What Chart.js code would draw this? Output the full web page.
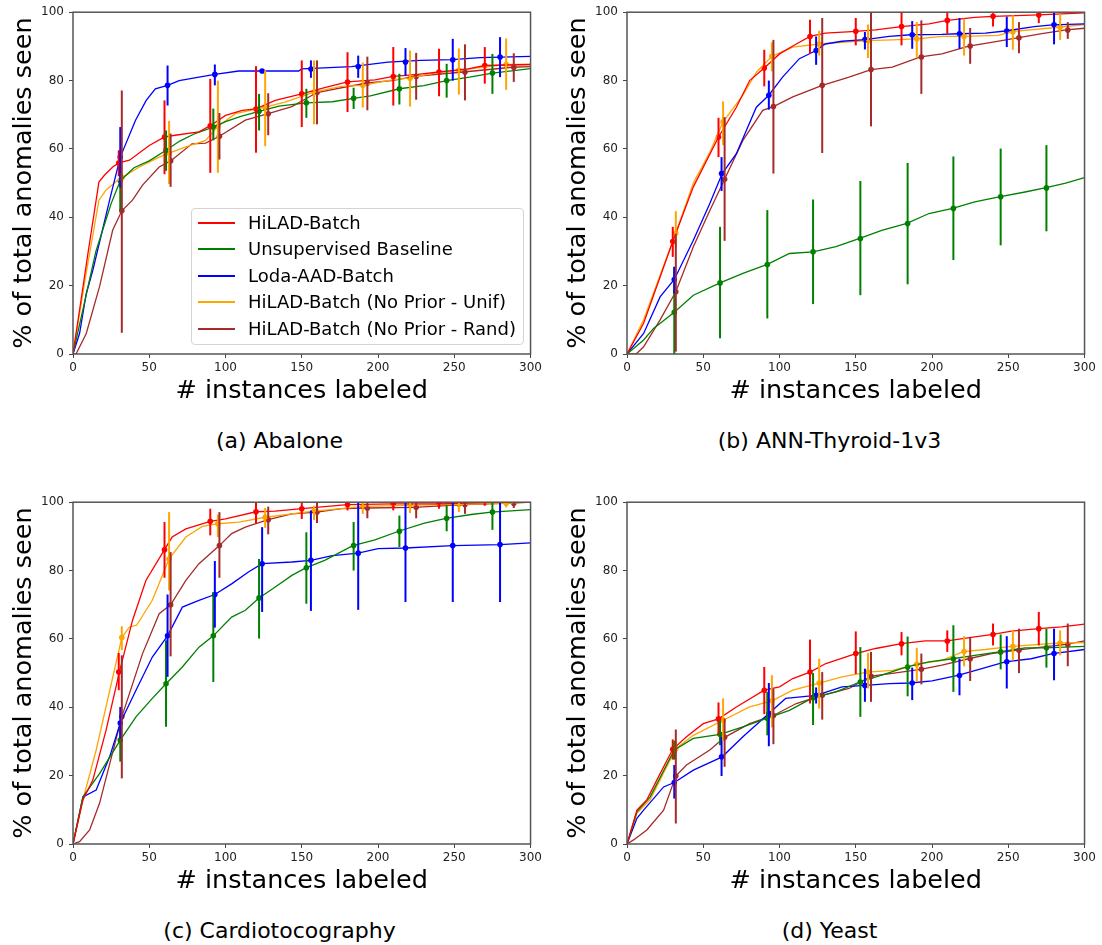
<!DOCTYPE html>
<html>
<head>
<meta charset="utf-8">
<script src="https://cdn.jsdelivr.net/npm/chart.js@4"></script>
<style>
  body { margin: 0; background: #fff; font-family: "DejaVu Sans", sans-serif; }
  #page { position: relative; width: 1102px; height: 945px; }
  canvas { position: absolute; }
  .caption { position: absolute; width: 551px; text-align: center; font-size: 22px; line-height: 26px; color: #000; }
  #legend { position: absolute; left: 191px; top: 208px; width: 333px; height: 137px; box-sizing: border-box;
            border: 1px solid #d4d4d4; border-radius: 4px; background: rgba(255,255,255,0.85); }
  .lg-row { position: absolute; left: 0; height: 24px; width: 330px; }
  .lg-line { position: absolute; left: 6px; top: 11px; width: 37px; height: 2px; }
  .lg-text { position: absolute; left: 56px; top: 0; font-size: 18px; line-height: 24px; white-space: nowrap; color: #000; }
</style>
</head>
<body>
<div id="page">
  <canvas id="chartA" width="545" height="410" style="left:0;top:0"></canvas>
  <canvas id="chartB" width="545" height="410" style="left:554px;top:0"></canvas>
  <canvas id="chartC" width="545" height="410" style="left:0;top:490px"></canvas>
  <canvas id="chartD" width="545" height="410" style="left:554px;top:490px"></canvas>
  <div class="caption" style="left:4px;top:428px">(a) Abalone</div>
  <div class="caption" style="left:554px;top:428px">(b) ANN-Thyroid-1v3</div>
  <div class="caption" style="left:4px;top:918px">(c) Cardiotocography</div>
  <div class="caption" style="left:554px;top:918px">(d) Yeast</div>
  <div id="legend"></div>
</div>
<script>
const seriesNames = ['HiLAD-Batch', 'Unsupervised Baseline', 'Loda-AAD-Batch',
  'HiLAD-Batch (No Prior - Unif)', 'HiLAD-Batch (No Prior - Rand)'];
const seriesColors = ['#ff0000', '#008000', '#0000ff', '#ffa500', '#a52a2a'];

const xTicks = [0, 50, 100, 150, 200, 250, 300];
const yTicks = [0, 20, 40, 60, 80, 100];

// x positions of the error bars (each method is shifted a little)
const hiladCheckX = [30, 60, 90, 120, 150, 180, 210, 240, 270];
const baselineCheckX = [31, 61, 92, 122, 153, 184, 214, 245, 275];
const lodaCheckX = [31, 62, 93, 124, 156, 187, 218, 249, 280];
const unifCheckX = [32, 63, 95, 126, 158, 190, 221, 253, 284];
const randCheckX = [32, 64, 96, 128, 160, 193, 225, 257, 289];

// (a) Abalone - curves [x, y]
const abaloneHilad = [[0,0],[5,15],[10,30],[17,50.3],[20.6,52.3],[26,54.7],[30,55.9],[37,56.7],[50,61],[60,63.5],[67,64],[82.6,65],[90,66.8],[100,69.8],[111,71.3],[120,71.7],[132.6,74.2],[150,76.1],[165,77.9],[180,79.6],[198,80.2],[210,81.2],[226,81.8],[240,82.5],[259,83.4],[270,84.4],[300,84.7]];
const abaloneBaseline = [[0,0],[5,10],[10,20],[15,30],[20,37],[25,44],[31,50.7],[40,54.5],[50,56.5],[61,59.6],[70,62.3],[80,64.5],[92,66.4],[100,68],[110,69.5],[122,71],[135,72.5],[153,73.5],[170,73.8],[184,74.8],[195,75.5],[214,77.6],[230,78.5],[245,80],[260,81],[275,82.2],[300,83.5]];
const abaloneLoda = [[0,0],[4.3,6],[8.7,17.7],[13,24.5],[24,45],[31,57.6],[41,68.4],[48,74.2],[54,77.6],[62,78.6],[69.6,80],[82.6,81],[93,81.8],[108.7,82.8],[148,82.8],[150,83.4],[182.6,84.1],[206.5,85.4],[228,85.9],[248.5,86.1],[267,86.7],[300,87.1]];
const abaloneUnif = [[0,0],[8,22],[17,45],[21.7,48],[29.3,50.8],[32,51.6],[43.5,54.7],[56.5,57.6],[63,58.8],[74,60.6],[87,62.5],[95,66.6],[106.5,70.3],[126,72.2],[139,73.7],[158,76.6],[176,78.3],[190,78.6],[209,80.2],[220.4,80.7],[237,82.2],[252.4,83],[283,84.7],[300,84.7]];
const abaloneRand = [[0,0],[2,0],[8.7,6],[17.4,19.7],[26,36.2],[32,41.9],[39,45],[45.6,49.4],[56.5,54.7],[64,56.5],[78,61.5],[87,61.7],[96,63.7],[113,68.4],[128,70.3],[143.5,72.4],[160,76.5],[176,77.9],[193,79.3],[209,80],[224,81.2],[256,82.5],[288,83.9],[300,84.1]];
// error bars [mean, low, high]
const abaloneHiladErr = [[55.9,52,59.6],[63.5,52.6,74.2],[66.8,53,80.5],[71.7,58.9,84.2],[76.1,66.4,85.9],[79.6,70.8,88.3],[81.2,72.7,89.8],[82.5,75.4,89.3],[84.4,79.1,89.8]];
const abaloneBaselineErr = [[50.7,42.1,54.7],[59.6,53.6,65.4],[66.4,62.5,71.8],[71,65.4,76.1],[73.5,69.1,77.6],[74.8,71.7,77.9],[77.6,73,82],[80,75,84.9],[82.2,76.1,87.8]];
const abaloneLodaErr = [[57.6,48.7,66.4],[78.6,72.7,84.4],[81.8,78.6,84.7],[82.8,82.5,83.1],[83.4,80.8,85.9],[84.1,80.8,87.3],[85.4,81.4,89.5],[86.1,80,92.2],[86.9,81,92.7]];
const abaloneUnifErr = [[51.6,50.5,53],[58.8,49.7,68.2],[66.6,53,80],[72.2,60.8,83],[76.6,67.2,85.9],[78.6,72.1,85.3],[80.7,72.4,88.8],[83,75.9,89.4],[84.7,77.3,92.3]];
const abaloneRandErr = [[41.9,6.2,77.1],[56.5,48.9,64.5],[63.7,56.9,70.5],[70.3,64,76.3],[76.5,67.2,85.9],[79.3,71.3,87],[81.2,74.4,88.1],[82.5,74.2,90.6],[83.9,79.6,88]];

// (b) ANN-Thyroid-1v3
const thyroidHilad = [[0,0],[10.9,9],[30,32.9],[43.5,48.9],[60,63.5],[71.7,72.2],[80.4,80],[90,83.7],[100,87.8],[111,90.7],[120,92.9],[130,93.9],[150,94.4],[163,94.8],[180,95.8],[198,96.6],[210,97.6],[228,98.5],[240,98.8],[270,99.2],[300,99.8]];
const thyroidBaseline = [[0,0],[10.9,4.1],[17.4,7.5],[31,12.2],[43.5,17.2],[61,20.8],[76,23.6],[92,26.2],[106.5,29.4],[122,29.9],[137,31.4],[152.6,33.8],[167,36.2],[183.5,38.2],[198,41.1],[213.5,42.6],[228,44.5],[244,46],[261,47.4],[274,48.6],[287,49.9],[300,51.6]];
const thyroidLoda = [[0,0],[10.9,6],[21.7,16.7],[31,21.8],[43.5,33.3],[54.3,44],[62.4,52.8],[71.7,58.6],[84.8,72.2],[93,75.7],[102,81],[113,86.4],[124,88.8],[130,90.7],[141,91.5],[156,92],[172,92.9],[186,93.4],[206.5,93.5],[217,93.7],[235,93.9],[248,94.5],[267,95.8],[279,96.3],[300,96.6]];
const thyroidUnif = [[0,0],[10.9,10],[32,35.4],[43.5,50],[54.3,59],[63,67.9],[76,75.7],[85,82.5],[95,87.1],[108.7,89.8],[126,90.7],[141,91.2],[157.6,91.7],[174,91.9],[190,92.2],[206.5,92.9],[220.4,92.9],[243.5,93.2],[252,94.3],[283,95.6],[300,96.4]];
const thyroidRand = [[0,0],[6,0],[10.9,2.1],[21.7,10],[32,18.2],[43.5,31.4],[54.3,42],[64,51.1],[76,62.5],[89,71.3],[96,72.4],[108.7,75.2],[128,78.6],[145.6,81],[160,83.2],[174,83.9],[192.4,86.9],[206.5,87.8],[224,90.1],[239,91.2],[256,92.5],[272,93.7],[288,94.8],[300,95.3]];
const thyroidHiladErr = [[32.9,28.4,37.2],[63.5,57.6,69.1],[83.7,78.3,89],[92.9,87.8,97.8],[94.4,90.3,98.3],[95.8,90.3,100],[97.6,93.7,100],[98.8,95.8,99.7],[99.2,96.8,100]];
const thyroidBaselineErr = [[12.2,0,25.5],[20.8,4.6,37.2],[26.2,10.4,42.1],[29.9,14.6,45.2],[33.8,17.2,50.6],[38.2,20.4,55.9],[42.6,27.5,57.8],[46,31.8,60.1],[48.6,35.9,61.1]];
const thyroidLodaErr = [[21.8,17.7,25.5],[52.8,47.7,57.6],[75.7,71.5,80],[88.8,84.6,92.9],[92,89.1,94.2],[93.4,89.3,97.4],[93.7,89.3,98.3],[94.5,89.8,98.7],[96.3,90.6,100]];
const thyroidUnifErr = [[35.4,31.4,41.8],[67.9,61.1,73.9],[87.1,82.7,91.2],[90.7,87.3,94.6],[91.7,86.6,96.4],[92.2,86.7,97.1],[92.9,87.3,98.1],[94.3,89,99.1],[95.6,91.9,99.5]];
const thyroidRandErr = [[18.2,0.7,35.2],[51.1,33.1,69.3],[72.4,52.8,91.9],[78.6,58.8,98.3],[83.2,66.6,100],[86.9,76.1,97.6],[90.1,84.9,95.4],[92.5,88,97.1],[94.8,92.2,97.1]];

// (c) Cardiotocography
const cardioHilad = [[0,0],[6.5,12.9],[13,18.7],[21.7,33.3],[30.4,50.3],[39,65.4],[47.8,77.1],[60,86.1],[65,89.8],[74,92.2],[90,94.4],[100,95.1],[120,97.2],[132.6,97.4],[150,98.1],[180,99.3],[210,99.5],[240,99.5],[270,99.9],[300,100]];
const cardioBaseline = [[0,0],[6.5,13.8],[17.4,20.6],[31,30.4],[41.3,37.2],[52,42.6],[61,46.9],[71.7,51.8],[82.6,57.6],[92,60.9],[104,66.4],[113,68.4],[122,72],[132.6,75.2],[143.5,78.6],[152.6,80.8],[165,83],[183.5,87.3],[198,89],[213.5,91.5],[230.4,93.9],[244.6,95.3],[261,96.4],[274.3,97.1],[300,97.8]];
const cardioLoda = [[0,0],[6.5,13.8],[15.2,15.8],[24,25.5],[31,35.4],[41.3,45],[52,54.7],[62,60.9],[71.7,69.3],[82.6,71.3],[93,73],[104,76.1],[115,79.6],[124,82],[143.5,82.5],[156,83],[170,84.4],[187,85.1],[200,86.4],[218,86.6],[249,87.3],[280,87.6],[300,88.1]];
const cardioUnif = [[0,0],[6.5,12.9],[15.2,27.5],[32,60.4],[37,63.5],[41.7,64],[52,71.3],[63,83.4],[74,89.8],[84.8,92.9],[95,93.7],[108.7,94.2],[126,95.6],[143.5,96.6],[157.6,97.4],[176,98.1],[190,98.8],[220.4,99.1],[252.4,99.4],[283,99.7],[300,100]];
const cardioRand = [[0,0],[4.3,0.7],[10.9,4.1],[17.4,11.9],[32,37.2],[45.6,55.7],[56.5,67.4],[64,70],[74,77.1],[82.6,82],[96,87.3],[104,90.8],[113,92.7],[128,94.9],[143.5,96.6],[160,97.1],[176,98.1],[193,98.3],[224,98.5],[256,99.3],[288,99.7],[300,100]];
const cardioHiladErr = [[50.3,45,55.9],[86.1,77.9,94.2],[94.4,90.3,98.1],[97.2,93.9,100],[98.1,95.1,100],[99.3,97.6,100],[99.5,97.6,100],[99.5,98.1,100],[99.9,99,100]];
const cardioBaselineErr = [[30.4,24.1,35.2],[46.9,34.3,59.6],[60.9,47.4,73.7],[72,60.1,83.4],[80.8,70.3,91.2],[87.3,80,94.2],[91.5,86.9,96.1],[95.3,91.5,99],[97.1,91.9,100]];
const cardioLodaErr = [[35.4,30.9,40.1],[60.9,48.9,73],[73,63.3,82.8],[82,67.9,92.7],[83,68.2,97.6],[85.1,68.5,100],[86.6,70.8,100],[87.3,70.8,100],[87.6,70.8,100]];
const cardioUnifErr = [[60.4,56.7,63.7],[83.4,74.2,97.1],[93.7,89.8,96.4],[95.6,92.5,98.3],[97.4,94.8,99],[98.8,96.6,100],[99.1,96.8,100],[99.4,97.1,100],[99.7,98.5,100]];
const cardioRandErr = [[37.2,19.2,55.2],[70,54.9,85.4],[87.3,77.9,97.1],[94.9,90.6,98.7],[97.1,93.9,100],[98.3,95.3,100],[98.5,95.3,100],[99.3,96.6,100],[99.7,98.3,100]];

// (d) Yeast
const yeastHilad = [[0,0],[6.5,9.9],[13,12.9],[21.7,20.6],[30,27.7],[39,31.4],[50,35.2],[60,36.6],[71.7,40.1],[90,45],[100,46],[108.7,48.4],[120,50.3],[130.4,52.8],[150,55.7],[163,57.2],[180,58.6],[195.6,59.4],[210,59.4],[228,60.6],[240,61.3],[252,62.3],[270,63],[285,63.5],[300,64.3]];
const yeastBaseline = [[0,0],[6.5,9.4],[15.2,13.8],[31,27.5],[43.5,30.9],[61,32.1],[76,34.3],[92,36.8],[106.5,39.1],[122,42.8],[137,44.5],[152.6,47.4],[167,49.4],[183.5,51.8],[198,53.3],[213.5,54.2],[228,55.2],[244,56.2],[261,57.4],[274,57.4],[300,57.8]];
const yeastLoda = [[0,0],[6.5,7.5],[10.9,9.9],[24,16.7],[31,18],[43.5,21.6],[62.4,25.5],[76,31.4],[93,38.2],[104,42.6],[124,43.5],[141,46],[156,46.4],[172,46.9],[186,47.1],[200,47.7],[217,49.3],[232.6,51.3],[248,53.3],[265,54.2],[279,55.7],[300,56.9]];
const yeastUnif = [[0,0],[6.5,9],[15.2,13],[32,27.9],[43.5,31.8],[63,36.2],[80.4,40.1],[95,41.9],[108.7,45],[126,47.1],[141,48.9],[157.6,50.3],[174,50.8],[190,52.6],[206.5,53.7],[220.4,56.3],[235,56.9],[252.4,57.8],[283,58.8],[300,58.9]];
const yeastRand = [[0,0],[4.3,1.2],[13,4.1],[24,9.9],[32,19.9],[39,23.1],[54.3,27.5],[64,31.2],[80.4,35.2],[96,37.6],[111,41.1],[128,43.5],[145.6,45.5],[160,49.1],[174,49.9],[192.4,51.1],[206.5,52.3],[224,54.2],[239,55.7],[256,56.7],[272,57.6],[288,58.4],[300,59.4]];
const yeastHiladErr = [[27.7,24.7,30.6],[36.6,31.8,41.4],[45,38,51.8],[50.3,41.1,59.8],[55.7,49.7,62.2],[58.6,55.2,62],[59.4,56.2,62.5],[61.3,58.1,64.5],[63,58.1,67.9]];
const yeastBaselineErr = [[27.5,24.7,30.2],[32.1,28.9,36.2],[36.8,31.8,44.5],[42.8,34.8,50],[47.4,37.2,57.6],[51.8,43.2,60.7],[54.2,44.5,64],[56.2,51.1,61.3],[57.4,51.6,63]];
const yeastLodaErr = [[18,13.3,23.1],[25.5,19.9,31.4],[38.2,28.6,47.1],[43.5,41.1,45.8],[46.4,41.6,51.3],[47.1,42.1,51.6],[49.3,43.5,54.2],[53.3,45.5,60.8],[55.7,47.9,63]];
const yeastUnifErr = [[27.9,26.5,29.9],[36.2,30.2,42.6],[41.9,34.1,49.4],[47.1,39.6,54.2],[50.3,45.5,55.9],[52.6,47.4,57.4],[56.3,52,60.8],[57.8,53.7,62.5],[58.8,55.2,62.5]];
const yeastRandErr = [[19.9,6,33.5],[31.2,22.6,36.7],[37.6,29.2,45.5],[43.5,36.4,50.3],[49.1,41.6,56.2],[51.1,46.7,55.7],[54.2,47.7,60.6],[56.7,50,63],[58.4,52,64.5]];

const checkX = [hiladCheckX, baselineCheckX, lodaCheckX, unifCheckX, randCheckX];

// draws the vertical error bars and the box around the plot
const errorBarPlugin = {
  id: 'errorBars',
  afterDatasetsDraw(chart) {
    const ctx = chart.ctx;
    const x = chart.scales.x, y = chart.scales.y;
    chart.data.datasets.forEach(function (ds) {
      if (!ds.errBars) return;
      ctx.save();
      ctx.strokeStyle = ds.pointBackgroundColor;
      ctx.lineWidth = 2;
      ds.errBars.forEach(function (b) {
        const px = x.getPixelForValue(b[0]);
        ctx.beginPath();
        ctx.moveTo(px, y.getPixelForValue(b[1]));
        ctx.lineTo(px, y.getPixelForValue(b[2]));
        ctx.stroke();
      });
      ctx.restore();
    });
    const a = chart.chartArea;
    ctx.save();
    ctx.strokeStyle = '#555';
    ctx.lineWidth = 1.5;
    ctx.strokeRect(a.left, a.top, a.right - a.left, a.bottom - a.top);
    ctx.restore();
  }
};

function makePanel(id, lines, errs) {
  const datasets = [];
  lines.forEach(function (pts, i) {
    datasets.push({
      label: seriesNames[i],
      data: pts,
      borderColor: seriesColors[i],
      borderWidth: 1.3,
      pointRadius: 0,
      tension: 0,
      fill: false,
    });
  });
  errs.forEach(function (e, i) {
    datasets.push({
      label: seriesNames[i] + ' mean',
      data: checkX[i].map((xv, k) => [xv, e[k][0]]),
      showLine: false,
      pointRadius: 2.8,
      pointBackgroundColor: seriesColors[i],
      pointBorderColor: seriesColors[i],
      pointBorderWidth: 0,
      errBars: checkX[i].map((xv, k) => [xv, e[k][1], e[k][2]]),
    });
  });

  new Chart(document.getElementById(id), {
    type: 'line',
    data: { datasets: datasets },
    plugins: [errorBarPlugin],
    options: {
      responsive: false,
      animation: false,
      devicePixelRatio: 1,
      layout: { padding: { top: 12, right: 12, left: 0, bottom: 0 } },
      plugins: { legend: { display: false }, tooltip: { enabled: false } },
      scales: {
        x: {
          type: 'linear',
          min: 0,
          max: 300,
          afterBuildTicks: function (scale) { scale.ticks = xTicks.map(v => ({ value: v })); },
          afterFit: function (scale) { scale.height = 56; },
          grid: { drawOnChartArea: false, drawTicks: true, tickLength: 4, color: '#444' },
          border: { display: false },
          ticks: { color: '#222', padding: 3, autoSkip: false, maxRotation: 0, font: { family: 'DejaVu Sans', size: 12 } },
          title: {
            display: true,
            text: '# instances labeled',
            color: '#000',
            font: { family: 'DejaVu Sans', size: 25.5 },
            padding: { top: 0, bottom: 3.7 },
          },
        },
        y: {
          type: 'linear',
          min: 0,
          max: 100,
          afterBuildTicks: function (scale) { scale.ticks = yTicks.map(v => ({ value: v })); },
          afterFit: function (scale) { scale.width = 73; },
          grid: { drawOnChartArea: false, drawTicks: true, tickLength: 4, color: '#444' },
          border: { display: false },
          ticks: { color: '#222', padding: 5, font: { family: 'DejaVu Sans', size: 12 } },
          title: {
            display: true,
            text: '% of total anomalies seen',
            color: '#000',
            font: { family: 'DejaVu Sans', size: 25.5 },
            padding: { top: 9.3, bottom: 0 },
          },
        },
      },
    },
  });
}

document.addEventListener('DOMContentLoaded', function () {
  makePanel('chartA', [abaloneHilad, abaloneBaseline, abaloneLoda, abaloneUnif, abaloneRand],
    [abaloneHiladErr, abaloneBaselineErr, abaloneLodaErr, abaloneUnifErr, abaloneRandErr]);
  makePanel('chartB', [thyroidHilad, thyroidBaseline, thyroidLoda, thyroidUnif, thyroidRand],
    [thyroidHiladErr, thyroidBaselineErr, thyroidLodaErr, thyroidUnifErr, thyroidRandErr]);
  makePanel('chartC', [cardioHilad, cardioBaseline, cardioLoda, cardioUnif, cardioRand],
    [cardioHiladErr, cardioBaselineErr, cardioLodaErr, cardioUnifErr, cardioRandErr]);
  makePanel('chartD', [yeastHilad, yeastBaseline, yeastLoda, yeastUnif, yeastRand],
    [yeastHiladErr, yeastBaselineErr, yeastLodaErr, yeastUnifErr, yeastRandErr]);

  // legend inside panel (a)
  const legend = document.getElementById('legend');
  seriesNames.forEach(function (name, i) {
    const row = document.createElement('div');
    row.className = 'lg-row';
    row.style.top = Math.round(2 + i * 26.4) + 'px';
    const line = document.createElement('div');
    line.className = 'lg-line';
    line.style.background = seriesColors[i];
    const text = document.createElement('div');
    text.className = 'lg-text';
    text.textContent = name;
    row.appendChild(line);
    row.appendChild(text);
    legend.appendChild(row);
  });
});
</script>
</body>
</html>
